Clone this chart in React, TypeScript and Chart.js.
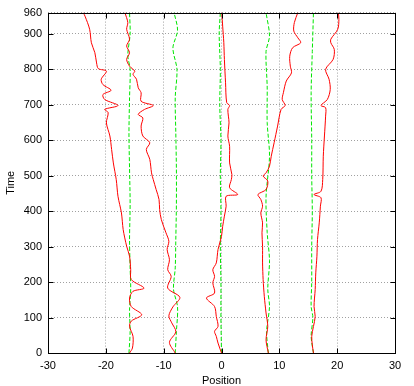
import React, { useEffect, useRef } from 'react';
import { Chart, registerables } from 'chart.js';

Chart.register(...registerables);

// ---- Axis ticks ----
const xTickValues = [-30, -20, -10, 0, 10, 20, 30];
const yTickValues = [0, 100, 200, 300, 400, 500, 600, 700, 800, 900, 960];

// ---- Red trajectories (time, position) ----
const red1Time = [0, 14, 47, 75, 90, 108, 131, 155, 174, 183, 207, 235, 273, 301, 348, 395, 442, 489, 536, 574, 612, 649, 678, 687, 698, 715, 729, 741, 757, 772, 795, 802, 818, 847, 875, 913, 950, 960];
const red1Pos = [-15.9, -15.4, -15.3, -15.9, -15.6, -13.8, -15.6, -15.9, -15.3, -13.4, -15.6, -15.7, -15.9, -16.4, -17.0, -17.3, -17.9, -18.2, -18.7, -19.0, -19.3, -19.9, -19.6, -20.2, -17.9, -20.2, -20.5, -19.1, -20.5, -20.8, -19.9, -21.3, -21.6, -21.9, -22.5, -22.8, -23.6, -23.9];

const red2Time = [0, 30, 60, 85, 105, 130, 157, 183, 216, 235, 263, 292, 315, 339, 376, 405, 433, 461, 489, 508, 546, 574, 593, 612, 640, 663, 673, 687, 698, 710, 734, 748, 772, 786, 795, 809, 828, 847, 866, 885, 913, 932, 960];
const red2Pos = [-8.0, -9.0, -7.9, -8.6, -9.1, -8.4, -7.2, -9.3, -8.7, -9.3, -9.0, -9.4, -9.1, -9.6, -10.4, -10.7, -10.8, -11.3, -11.8, -12.1, -12.4, -13.0, -12.4, -13.6, -13.9, -13.6, -14.4, -13.3, -11.8, -13.9, -13.9, -14.4, -14.7, -15.3, -15.0, -15.9, -16.4, -15.9, -16.4, -15.9, -16.4, -16.2, -16.7];

const red3Time = [0, 28, 47, 61, 75, 103, 131, 155, 169, 198, 216, 235, 254, 292, 329, 357, 386, 414, 442, 447, 466, 489, 503, 536, 583, 612, 649, 687, 698, 706, 762, 828, 875, 922, 960];
const red3Pos = [0.0, -0.6, -0.9, -1.2, -0.6, -0.9, -1.2, -2.6, -1.2, -1.5, -1.2, -1.5, -0.9, -0.6, 0.0, 0.2, 0.5, 0.8, 0.8, 2.8, 1.4, 1.7, 1.8, 1.4, 1.4, 1.1, 1.3, 1.1, 1.4, 0.9, 0.7, 0.5, 0.4, 0.2, 0.05];

const red4Time = [0, 37, 75, 113, 160, 207, 254, 301, 339, 367, 395, 414, 433, 447, 461, 485, 499, 508, 527, 555, 593, 640, 687, 698, 715, 734, 767, 790, 809, 837, 861, 875, 889, 908, 932, 960];
const red4Pos = [8.1, 7.7, 8.0, 7.7, 7.4, 7.2, 7.1, 7.1, 7.0, 7.1, 6.8, 7.1, 6.8, 6.3, 7.7, 8.0, 7.2, 7.7, 8.3, 8.6, 9.1, 9.7, 10.3, 11.0, 10.5, 10.7, 11.2, 12.1, 11.9, 11.8, 12.3, 13.7, 13.2, 12.5, 12.6, 13.2];

const red5Time = [0, 23, 47, 75, 103, 131, 179, 226, 273, 320, 367, 414, 438, 447, 456, 489, 555, 612, 668, 692, 698, 715, 743, 772, 800, 828, 856, 875, 885, 913, 941, 960];
const red5Pos = [15.9, 15.7, 15.6, 15.9, 16.2, 16.0, 16.2, 16.3, 16.5, 16.6, 16.9, 17.1, 17.2, 16.0, 17.2, 17.5, 17.6, 17.8, 18.0, 18.0, 17.2, 18.3, 18.8, 18.6, 18.0, 19.3, 19.5, 18.9, 18.9, 20.1, 20.3, 20.2];

// ---- Green dashed reference lines (time, position) ----
const green1Time = [0, 60, 120, 180, 240, 320, 420, 520, 620, 720, 800, 840, 900, 960];
const green1Pos = [-16.0, -15.8, -15.9, -15.7, -15.8, -15.9, -15.8, -15.9, -16.0, -15.9, -15.8, -16.2, -15.8, -15.9];

const green2Time = [0, 60, 130, 180, 240, 320, 420, 520, 620, 720, 800, 860, 910, 960];
const green2Pos = [-8.0, -7.8, -7.6, -8.3, -8.0, -7.9, -7.8, -7.8, -7.9, -8.0, -7.7, -8.4, -7.6, -8.2];

const green3Time = [0, 100, 200, 300, 400, 500, 600, 700, 800, 900, 960];
const green3Pos = [0.0, -0.1, -0.1, -0.2, -0.1, -0.2, -0.1, -0.3, -0.2, -0.4, -0.2];

const green4Time = [0, 60, 131, 180, 260, 340, 440, 555, 650, 750, 850, 894, 960];
const green4Pos = [8.1, 7.8, 8.3, 8.0, 8.3, 7.9, 7.7, 8.3, 7.9, 7.9, 7.7, 8.3, 7.7];

const green5Time = [0, 47, 100, 131, 200, 300, 400, 500, 600, 734, 850, 960];
const green5Pos = [15.9, 15.5, 15.8, 15.5, 15.6, 15.6, 15.7, 15.6, 15.6, 15.5, 15.7, 15.9];

const redSeries = [
  [red1Time, red1Pos],
  [red2Time, red2Pos],
  [red3Time, red3Pos],
  [red4Time, red4Pos],
  [red5Time, red5Pos],
];
const greenSeries = [
  [green1Time, green1Pos],
  [green2Time, green2Pos],
  [green3Time, green3Pos],
  [green4Time, green4Pos],
  [green5Time, green5Pos],
];

const toPoints = (times: number[], pos: number[]) =>
  times.map((t, i) => ({ x: pos[i], y: t }));

const FONT = { family: '"Liberation Sans", Arial, Helvetica, sans-serif', size: 11 };

const framePlugin = {
  id: 'gnuFrame',
  afterDatasetsDraw(chart: any) {
    const { ctx, chartArea } = chart;
    const { left, right, top, bottom } = chartArea;
    const xs = chart.scales.x;
    const ys = chart.scales.y;
    const L = Math.round(left) + 0.5;
    const R = Math.round(right) + 0.5;
    const T = Math.round(top) + 0.5;
    const B = Math.round(bottom) + 0.5;
    ctx.save();
    ctx.strokeStyle = '#000';
    ctx.lineWidth = 1;
    ctx.setLineDash([]);
    const tick = 5;
    ctx.beginPath();
    xTickValues.forEach((v) => {
      if (v === xs.min || v === xs.max) return;
      const p = Math.round(xs.getPixelForValue(v)) + 0.5;
      ctx.moveTo(p, B);
      ctx.lineTo(p, B - tick);
      ctx.moveTo(p, T);
      ctx.lineTo(p, T + tick);
    });
    yTickValues.forEach((v) => {
      if (v === ys.min || v === ys.max) return;
      const p = Math.round(ys.getPixelForValue(v)) + 0.5;
      ctx.moveTo(L, p);
      ctx.lineTo(L + tick, p);
      ctx.moveTo(R, p);
      ctx.lineTo(R - tick, p);
    });
    ctx.stroke();
    ctx.strokeRect(L, T, R - L, B - T);
    ctx.restore();
  },
};

export default function App() {
  const canvasRef = useRef<HTMLCanvasElement | null>(null);

  useEffect(() => {
    if (!canvasRef.current) return;
    const datasets: any[] = [];
    redSeries.forEach(([t, p], i) => {
      datasets.push({
        label: 'red' + i,
        data: toPoints(t, p),
        showLine: true,
        borderColor: '#ff0000',
        borderWidth: 1,
        pointRadius: 0,
        tension: 0.3,
        fill: false,
      });
    });
    greenSeries.forEach(([t, p], i) => {
      datasets.push({
        label: 'green' + i,
        data: toPoints(t, p),
        showLine: true,
        borderColor: '#00e600',
        borderWidth: 1,
        borderDash: [4, 2],
        pointRadius: 0,
        tension: 0.3,
        fill: false,
      });
    });

    const chart = new Chart(canvasRef.current, {
      type: 'scatter',
      data: { datasets },
      options: {
        animation: false,
        responsive: false,
        devicePixelRatio: 1,
        layout: { padding: { top: 12, right: 19, left: 0, bottom: 0 } },
        plugins: {
          legend: { display: false },
          tooltip: { enabled: false },
        },
        scales: {
          x: {
            type: 'linear',
            min: -30,
            max: 30,
            afterBuildTicks: (scale: any) => {
              scale.ticks = xTickValues.map((v) => ({ value: v }));
            },
            afterFit: (scale: any) => {
              scale.height = 33;
            },
            ticks: {
              font: FONT,
              color: '#000',
              padding: 6,
              maxRotation: 0,
              autoSkip: false,
            },
            grid: { color: '#a0a0a0', lineWidth: 1, drawTicks: false },
            border: { display: false, dash: [1, 2] },
            title: {
              display: true,
              text: 'Position',
              font: FONT,
              color: '#000',
              padding: { top: 0, bottom: -2 },
            },
          },
          y: {
            type: 'linear',
            min: 0,
            max: 960,
            afterBuildTicks: (scale: any) => {
              scale.ticks = yTickValues.map((v) => ({ value: v }));
            },
            afterFit: (scale: any) => {
              scale.width = 48;
            },
            ticks: {
              font: FONT,
              color: '#000',
              padding: 6,
              autoSkip: false,
            },
            grid: { color: '#a0a0a0', lineWidth: 1, drawTicks: false },
            border: { display: false, dash: [1, 2] },
            title: {
              display: true,
              text: 'Time',
              font: FONT,
              color: '#000',
              padding: { top: 4, bottom: 0 },
            },
          },
        },
      },
      plugins: [framePlugin],
    } as any);
    return () => chart.destroy();
  }, []);

  return (
    <div
      style={{
        position: 'fixed',
        left: 0,
        top: 0,
        width: 414,
        height: 386,
        background: '#fff',
      }}
    >
      <canvas ref={canvasRef} width={414} height={386} style={{ display: 'block' }} />
    </div>
  );
}
